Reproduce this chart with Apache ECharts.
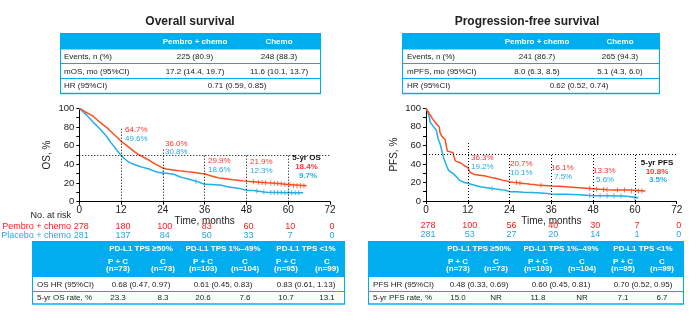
<!DOCTYPE html>
<html><head><meta charset="utf-8">
<script src="https://cdn.jsdelivr.net/npm/echarts/dist/echarts.min.js"></script>
<style>html,body{margin:0;padding:0;background:#fff}#c{width:698px;height:325px}</style>
</head><body><div id="c"></div>
<script>
// ---------------- DATA ----------------
const timeTicks = [0, 12, 24, 36, 48, 60, 72];

const osPembro = [[0,100],[0.5,99],[1,98],[1.5,96.5],[2,95.5],[3,93.5],[4,91.5],[4.5,90],[5,88],[6,85],[7,82],[8,79],[9,75.5],[10,72],[11,68.5],[12,64.7],[13,62],[14,59],[15,56],[16,53],[17,50.5],[18,48.5],[19,46.5],[20,44.5],[21,42],[22,40],[23,38],[24,36.0],[25,35],[26,34.5],[27,34],[28,33.5],[29,33],[30,32.5],[31,32],[32,31.7],[33,31.3],[34,30.8],[35,30.3],[36,29.9],[37,28.5],[38,27.5],[39,26.5],[40,25.5],[41,25],[42,24.5],[43,24],[44,23.5],[45,23.2],[46,22.8],[47,22.3],[48,21.9],[49,21.6],[50,21.3],[51,21],[52,20.7],[53,20.5],[54,20.2],[55,20],[56,19.8],[57,19.5],[58,19.2],[59,18.8],[60,18.4],[60.5,18.4],[60.5,17.1],[65.3,17.1]];
const osChemo = [[0,100],[0.5,98.5],[1,96.5],[2,93],[3,89],[4,85],[5,81.5],[6,77.5],[7,73.5],[8,69],[9,63.5],[10,59],[11,54],[12,49.6],[13,46],[14,43],[15,41],[16,39.5],[17,38.3],[18,37],[19,36],[20,35],[21,33.5],[22,32],[23,31.3],[24,30.8],[25,30.5],[26,30],[27,29.5],[28,28],[29,26.5],[30,25.5],[31,24.5],[32,23.5],[33,22.5],[34,21.5],[35,20],[36,18.6],[38,18.3],[40,18],[41,17.5],[42,16.5],[43,15.7],[44,15.2],[45,14.6],[46,14.2],[47,13.2],[48,12.3],[50,12],[51,11.5],[52,11],[53,10.5],[54,10.2],[54,9.8],[60,9.7],[64.3,9.7]];
const pfsPembro = [[0,100],[0.5,97],[1,94],[1.5,91],[2,88],[2.5,86],[3,83],[3.5,81],[3.8,80],[4,74],[4.5,70],[5,68],[5.5,66],[6,65],[6.1,54],[7,53],[7.8,52],[8,48],[8.4,47],[8.5,43],[9,42],[10,41],[11,38],[12,36.3],[12.4,35],[12.6,31],[13,29],[14,28.5],[15,28],[16,27.5],[17,27],[18,26],[19,25],[20,24.5],[21,23.5],[22,22.5],[23,21.7],[24,20.7],[25,20.3],[26,20],[27,19.5],[28,19],[29,18.5],[30,18],[31,17.7],[32,17.3],[33,17],[34,16.7],[35,16.4],[36,16.1],[38,15.8],[40,15.3],[42,14.8],[44,14.3],[46,13.8],[48,13.3],[50,12.7],[52,12.2],[54,11.9],[58.5,11.9],[58.5,10.8],[63,10.8]];
const pfsChemo = [[0,100],[0.5,96],[1,90],[1.2,85],[1.5,83],[2,81],[2.5,79],[3,76],[3.4,75],[3.5,67],[4,62],[4.5,55],[5,47],[5.5,42],[6,37],[6.5,33],[7,31.5],[8,29],[9,25],[9.5,22.5],[10,21.5],[11,20],[12,19.2],[13,18],[14,17],[15,16],[16,15.2],[17,14.6],[18,14],[19,13.4],[20,12.9],[21,12.5],[22,12],[23,11.4],[24,10.1],[26,9.9],[28,9.5],[30,9.2],[32,8.8],[34,8.3],[36,7.5],[38,7.3],[40,7.2],[42,7],[44,6.7],[46,6.3],[48,5.6],[52,5.6],[57,5.5],[57,3.5],[61,3.5]];

const osCensorPembro = [50,51.5,52.5,53.5,55,56,57,58,59,60.5,61.5,62.5,63.5,64.5];
const osCensorChemo = [24,33.5,51,53,55,56,57,58,59,60,61,62,63];
const pfsCensorPembro = [26,27,33,47,49,51,52,55,57,59,61,62];
const pfsCensorChemo = [19,47,50,52,54,56,60];

const osRiskPembro = [278,180,100,83,60,10,0];
const osRiskChemo = [281,137,84,50,33,7,0];
const pfsRiskPembro = [278,100,56,40,30,7,0];
const pfsRiskChemo = [281,53,27,20,14,1,0];

const osLandPembro = ['64.7%','36.0%','29.9%','21.9%'];
const osLandChemo = ['49.6%','30.8%','18.6%','12.3%'];
const os5yr = ['5-yr OS','18.4%','9.7%'];
const pfsLandPembro = ['36.3%','20.7%','16.1%','13.3%'];
const pfsLandChemo = ['19.2%','10.1%','7.5%','5.6%'];
const pfs5yr = ['5-yr PFS','10.8%','3.5%'];

const topHeader = ['Pembro + chemo','Chemo'];
const osTopRows = [['Events, n (%)','225 (80.9)','248 (88.3)'],['mOS, mo (95%CI)','17.2 (14.4, 19.7)','11.6 (10.1, 13.7)']];
const osTopHR = ['HR (95%CI)','0.71 (0.59, 0.85)'];
const pfsTopRows = [['Events, n (%)','241 (86.7)','265 (94.3)'],['mPFS, mo (95%CI)','8.0 (6.3, 8.5)','5.1 (4.3, 6.0)']];
const pfsTopHR = ['HR (95%CI)','0.62 (0.52, 0.74)'];

const tpsGroups = ['PD-L1 TPS \u226550%','PD-L1 TPS 1%\u201349%','PD-L1 TPS <1%'];
const armLabels = ['P + C','C','P + C','C','P + C','C'];
const armN = [73,73,103,104,95,99];
const osHRbyTPS = ['0.68 (0.47, 0.97)','0.61 (0.45, 0.83)','0.83 (0.61, 1.13)'];
const os5yrByTPS = ['23.3','8.3','20.6','7.6','10.7','13.1'];
const pfsHRbyTPS = ['0.48 (0.33, 0.69)','0.60 (0.45, 0.81)','0.70 (0.52, 0.95)'];
const pfs5yrByTPS = ['15.0','NR','11.8','NR','7.1','6.7'];

// ---------------- STYLE ----------------
const RED = '#FF4D1F', BLUE = '#22AEE6', TRED = '#FF3333', TBLUE = '#27A9E1', HEAD = '#00AEEF';
const FF = '"Liberation Sans", Arial, sans-serif';

function valAt(curve, t) {
  for (let i = 1; i < curve.length; i++) {
    const a = curve[i - 1], b = curve[i];
    if (t >= a[0] && t <= b[0]) {
      if (b[0] === a[0]) return a[1];
      return a[1] + (b[1] - a[1]) * (t - a[0]) / (b[0] - a[0]);
    }
  }
  return curve[curve.length - 1][1];
}
function censor(curve, times) { return times.map(t => [t, valAt(curve, t)]); }

const chart = echarts.init(document.getElementById('c'), null, {renderer: 'canvas'});

function xAx(gi, name) {
  return {
    gridIndex: gi, type: 'value', min: 0, max: 72, interval: 12,
    name: name, nameLocation: 'middle', nameGap: 15,
    nameTextStyle: {fontFamily: FF, fontSize: 10, color: '#222'},
    axisLine: {lineStyle: {color: '#000', width: 1}},
    axisTick: {length: 3, lineStyle: {color: '#000'}},
    axisLabel: {fontFamily: FF, fontSize: 10, color: '#222', margin: 4},
    splitLine: {show: false}
  };
}
function yAx(gi, name) {
  return {
    gridIndex: gi, type: 'value', min: 0, max: 100, interval: 20,
    name: name, nameLocation: 'middle', nameGap: 27, nameRotate: 90,
    nameTextStyle: {fontFamily: FF, fontSize: 10, color: '#222'},
    axisLine: {show: true, lineStyle: {color: '#000', width: 1}},
    axisTick: {show: true, length: 3, lineStyle: {color: '#000'}},
    minorTick: {show: true, splitNumber: 2, length: 3, lineStyle: {color: '#000'}},
    axisLabel: {fontFamily: FF, fontSize: 9.5, color: '#222', margin: 5},
    splitLine: {show: false}
  };
}
const dotted = {color: '#000', width: 1, type: [1, 2]};
function guides(top12, top24) {
  const d = [[{coord: [0, 50]}, {coord: [72, 50]}],
             [{coord: [12, 0]}, {coord: [12, top12]}],
             [{coord: [24, 0]}, {coord: [24, top24]}]];
  [36, 48, 60].forEach(t => d.push([{coord: [t, 0]}, {coord: [t, 50]}]));
  return {silent: true, symbol: 'none', label: {show: false}, lineStyle: dotted, data: d, animation: false};
}
function km(gi, data, color, ml) {
  const s = {type: 'line', xAxisIndex: gi, yAxisIndex: gi, data: data, showSymbol: false,
    lineStyle: {color: color, width: 1.5}, itemStyle: {color: color}, z: 3, animation: false};
  if (ml) s.markLine = ml;
  return s;
}
function cens(gi, data, color) {
  return {type: 'scatter', xAxisIndex: gi, yAxisIndex: gi, data: data, symbol: 'rect', symbolSize: [1, 5],
    itemStyle: {color: color}, z: 4, animation: false, silent: true};
}

chart.setOption({
  animation: false,
  grid: [
    {left: 79.3, top: 108.3, width: 250.7, height: 93.4},
    {left: 426, top: 108.3, width: 250.7, height: 92.7}
  ],
  xAxis: [xAx(0, 'Time, months'), xAx(1, 'Time, months')],
  yAxis: [yAx(0, 'OS, %'), yAx(1, 'PFS, %')],
  series: [
    km(0, osChemo, BLUE, guides(78, 57)),
    km(0, osPembro, RED),
    km(1, pfsChemo, BLUE, guides(64, 50)),
    km(1, pfsPembro, RED),
    cens(0, censor(osPembro, osCensorPembro), RED),
    cens(0, censor(osChemo, osCensorChemo), BLUE),
    cens(1, censor(pfsPembro, pfsCensorPembro), RED),
    cens(1, censor(pfsChemo, pfsCensorChemo), BLUE)
  ]
});

// ---------------- GRAPHICS (tables, annotations) ----------------
const G = [];
function txt(x, y, s, o) {
  o = o || {};
  G.push({type: 'text', x: x, y: y, silent: true, z: 10, style: {
    text: s, font: (o.bold ? 'bold ' : '') + (o.size || 8) + 'px ' + FF,
    fill: o.color || '#222', textAlign: o.align || 'center', textVerticalAlign: 'middle'}});
}
function rect(x, y, w, h, c) { G.push({type: 'rect', silent: true, z: 5, shape: {x: x, y: y, width: w, height: h}, style: {fill: c}}); }
function line(x1, y1, x2, y2, c, w) { G.push({type: 'line', silent: true, z: 6, shape: {x1: x1, y1: y1, x2: x2, y2: y2}, style: {stroke: c, lineWidth: w || 1}}); }

txt(190, 22, 'Overall survival', {bold: true, size: 12, color: '#222'});
txt(527, 22, 'Progression-free survival', {bold: true, size: 12, color: '#222'});

function topTable(x0, x1, labelX, c1, c2, hrC, rows, hr) {
  rect(x0, 33, x1 - x0, 16.5, HEAD);
  txt(c1, 42, topHeader[0], {bold: true, color: '#fff'});
  txt(c2, 42, topHeader[1], {bold: true, color: '#fff'});
  const ys = [57, 71.5];
  rows.forEach((r, i) => {
    txt(labelX, ys[i], r[0], {align: 'left'});
    txt(c1, ys[i], r[1]);
    txt(c2, ys[i], r[2]);
  });
  txt(labelX, 86, hr[0], {align: 'left'});
  txt(hrC, 86, hr[1]);
  line(x0, 63.5, x1, 63.5, HEAD, 1);
  line(x0, 78.5, x1, 78.5, HEAD, 1);
  line(x0, 93.5, x1, 93.5, HEAD, 1.3);
  line(x0 + 0.5, 33, x0 + 0.5, 93.5, HEAD, 1);
  line(x1 - 0.5, 33, x1 - 0.5, 93.5, HEAD, 1);
}
topTable(60, 321, 64, 195, 279, 237, osTopRows, osTopHR);
topTable(402, 660, 407, 537, 620, 579, pfsTopRows, pfsTopHR);

function bottomTable(x0, x1, labelX, groupC, armC, hrLabel, hrVals, rateLabel, rateVals) {
  rect(x0, 241, x1 - x0, 36, HEAD);
  tpsGroups.forEach((g, i) => txt(groupC[i], 248.5, g, {bold: true, color: '#fff'}));
  armLabels.forEach((a, i) => {
    txt(armC[i], 261.5, a, {bold: true, color: '#fff'});
    txt(armC[i], 268.8, '(n=' + armN[i] + ')', {bold: true, color: '#fff'});
  });
  txt(labelX, 284.5, hrLabel, {align: 'left'});
  hrVals.forEach((v, i) => txt(groupC[i], 284.5, v));
  txt(labelX, 297.5, rateLabel, {align: 'left'});
  rateVals.forEach((v, i) => txt(armC[i], 297.5, v));
  line(x0, 291.5, x1, 291.5, HEAD, 1);
  line(x0, 304, x1, 304, HEAD, 1.3);
  line(x0 + 0.5, 241, x0 + 0.5, 304, HEAD, 1);
  line(x1 - 0.5, 241, x1 - 0.5, 304, HEAD, 1);
}
bottomTable(32, 345, 37, [141, 223, 306], [118, 163, 203, 245, 286, 327],
  'OS HR (95%CI)', osHRbyTPS, '5-yr OS rate, %', os5yrByTPS);
bottomTable(368, 684, 373, [479, 561, 643], [458, 496, 538, 582, 623, 662],
  'PFS HR (95%CI)', pfsHRbyTPS, '5-yr PFS rate, %', pfs5yrByTPS);

function px(gi, t) { return chart.convertToPixel({xAxisIndex: gi}, t); }
txt(71, 215.5, 'No. at risk', {align: 'right', size: 9, color: '#222'});
txt(71, 226.5, 'Pembro + chemo', {align: 'right', size: 9, color: '#FF1A1A'});
txt(71, 235.5, 'Placebo + chemo', {align: 'right', size: 9, color: TBLUE});
timeTicks.forEach((t, i) => {
  txt(px(0, t) + 2, 226.5, String(osRiskPembro[i]), {size: 9, color: '#FF1A1A'});
  txt(px(0, t) + 2, 235.5, String(osRiskChemo[i]), {size: 9, color: TBLUE});
  txt(px(1, t) + 2, 225.5, String(pfsRiskPembro[i]), {size: 9, color: '#FF1A1A'});
  txt(px(1, t) + 2, 234.5, String(pfsRiskChemo[i]), {size: 9, color: TBLUE});
});

const osAnnX = [125, 165, 208, 250];
const osAnnYr = [129.5, 143.5, 160.5, 161.5];
const osAnnYb = [139, 152, 170, 171];
osLandPembro.forEach((s, i) => txt(osAnnX[i], osAnnYr[i], s, {align: 'left', color: TRED}));
osLandChemo.forEach((s, i) => txt(osAnnX[i], osAnnYb[i], s, {align: 'left', color: TBLUE}));
txt(306.5, 157.5, os5yr[0], {bold: true, color: '#111'});
txt(306.5, 167, os5yr[1], {bold: true, color: TRED});
txt(308, 176, os5yr[2], {bold: true, color: TBLUE});

const pfsAnnX = [471, 510, 551, 593];
const pfsAnnYr = [157.5, 163.5, 167.5, 171];
const pfsAnnYb = [167, 172.5, 177, 180];
pfsLandPembro.forEach((s, i) => txt(pfsAnnX[i], pfsAnnYr[i], s, {align: 'left', color: TRED}));
pfsLandChemo.forEach((s, i) => txt(pfsAnnX[i] + (i >= 2 ? 3 : 0), pfsAnnYb[i], s, {align: 'left', color: TBLUE}));
txt(657, 162.5, pfs5yr[0], {bold: true, color: '#111'});
txt(657, 171.5, pfs5yr[1], {bold: true, color: TRED});
txt(658, 180, pfs5yr[2], {bold: true, color: TBLUE});

chart.setOption({graphic: {elements: G}});
</script>
</body></html>
